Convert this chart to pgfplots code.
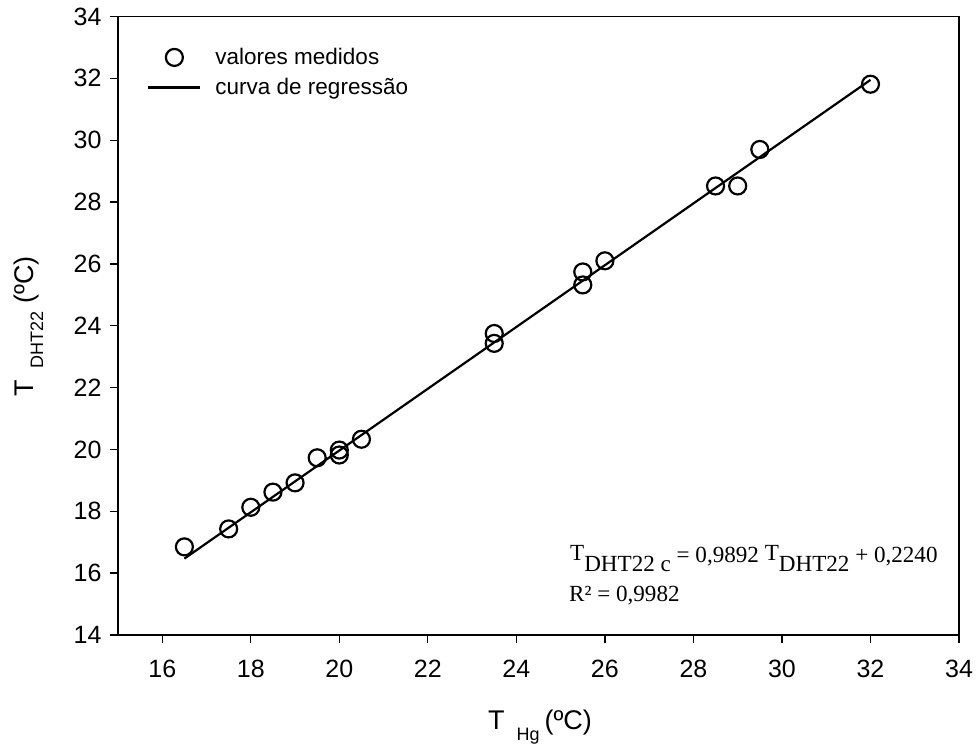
\documentclass[border=0pt]{standalone}
\usepackage{pgfplots}
\pgfplotsset{compat=1.18}
\usepackage{fontspec}
\setmainfont{Liberation Sans}
\newfontfamily\timesf{Liberation Serif}

\pgfplotsset{
  markleg/.style={legend image code/.code={\draw[mark repeat=2,mark phase=2,##1] plot coordinates {(0pt,0pt) (26pt,0pt) (52pt,0pt)};}},
  lineleg/.style={legend image code/.code={\draw[##1] (0pt,0pt) -- (52pt,0pt);}},
}

\begin{document}
\begin{tikzpicture}[x=1pt,y=1pt]
\useasboundingbox (0,0) rectangle (978,744);
\begin{axis}[
  at={(118pt,109pt)}, anchor=south west,
  scale only axis, width=841pt, height=618.5pt,
  xmin=15, xmax=34, ymin=14, ymax=34,
  xtick={16,18,...,34}, ytick={14,16,...,34},
  xtick pos=bottom, ytick pos=left,
  tick align=outside, major tick length=8pt,
  tick style={line width=1.3pt, black},
  axis line style={line width=1.6pt},
  ticklabel style={font=\fontsize{25}{25}\selectfont},
  xticklabel style={yshift=-14pt},
  yticklabel style={xshift=-5pt},
  /pgf/number format/assume math mode=true,
  clip=false,
  legend cell align=left,
  legend style={draw=none, fill=none, at={(0.031,0.955)}, anchor=north west,
    font=\fontsize{22.5}{22.5}\selectfont, row sep=8.3pt,
    /tikz/every odd column/.append style={column sep=12pt}},
]
\addplot[only marks, mark=o, mark size=8.5pt, mark options={line width=2.2pt}, markleg]
coordinates {
(16.5,16.85) (17.5,17.43) (18,18.13) (18.5,18.62) (19,18.92) (19.5,19.73)
(20,19.98) (20,19.82) (20.5,20.33) (23.5,23.75) (23.5,23.43)
(25.5,25.74) (25.5,25.32) (26,26.10) (28.5,28.52) (29,28.52)
(29.5,29.70) (32,31.81)
};
\addlegendentry{valores medidos}
\addplot[line width=2.2pt, no marks, lineleg]
coordinates {(16.5,16.47) (32,31.95)};
\addlegendentry{curva de regressão}
\end{axis}
% annotation
\node[anchor=base west, inner sep=0pt, font=\timesf\fontsize{23.1}{23.1}\selectfont]
  at (570,181) {\raisebox{2pt}{T}\raisebox{-9pt}{DHT22 c} = 0,9892 \raisebox{2pt}{T}\raisebox{-9pt}{DHT22} + 0,2240};
\node[anchor=base west, inner sep=0pt, font=\timesf\fontsize{23.1}{23.1}\selectfont]
  at (569,142.3) {R² = 0,9982};
% axis labels
\node[anchor=base, inner sep=0pt, font=\fontsize{27}{27}\selectfont]
  at (540,14) {T\hspace{12pt}\raisebox{-11pt}{\fontsize{18}{18}\selectfont Hg}\hspace{5pt}(ºC)};
\node[anchor=base, rotate=90, inner sep=0pt, font=\fontsize{27}{27}\selectfont]
  at (33,417.5) {T\hspace{12pt}\raisebox{-10pt}{\fontsize{18}{18}\selectfont DHT22}\hspace{8pt}(ºC)};
\end{tikzpicture}
\end{document}
